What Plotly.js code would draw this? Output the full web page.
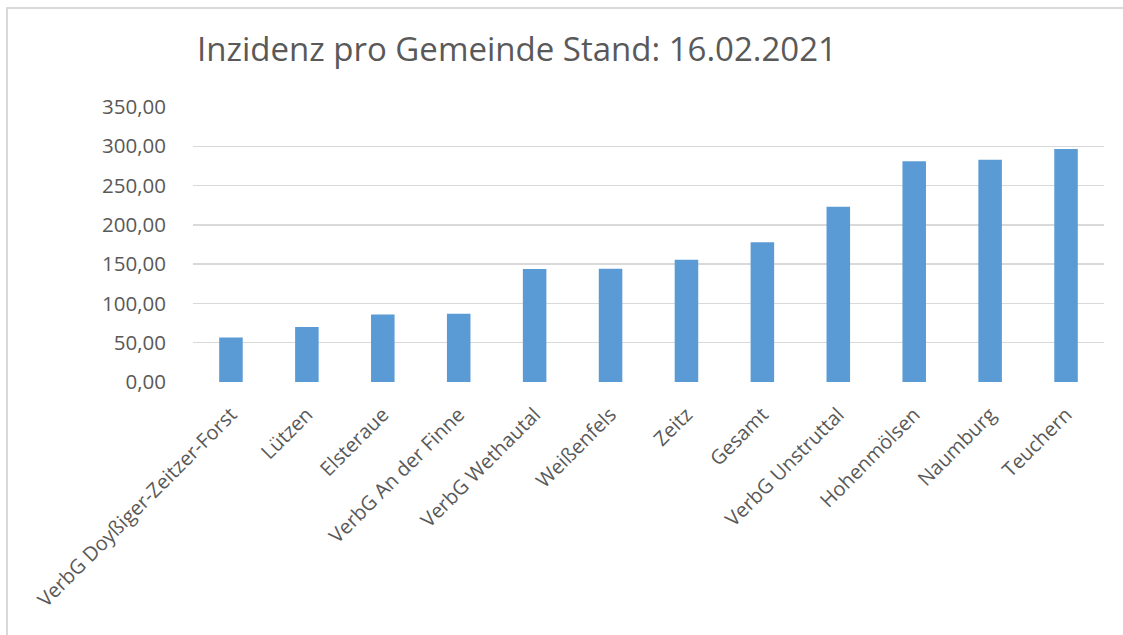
<!DOCTYPE html>
<html>
<head>
<meta charset="utf-8">
<script src="https://cdn.plot.ly/plotly-3.0.1.min.js"></script>
<style>
  html, body { margin: 0; padding: 0; background: #ffffff; overflow: hidden; }
  #chart { position: absolute; left: 0; top: 0; width: 1123px; height: 635px; }
  #frame { position: absolute; left: 6px; top: 7px; width: 1200px; height: 700px;
           border-left: 2px solid #d9d9d9; border-top: 2px solid #d9d9d9; pointer-events: none; }
</style>
</head>
<body>
<div id="chart"></div>
<div id="frame"></div>
<script>
const categories = [
  "VerbG Doyßiger-Zeitzer-Forst",
  "Lützen",
  "Elsteraue",
  "VerbG An der Finne",
  "VerbG Wethautal",
  "Weißenfels",
  "Zeitz",
  "Gesamt",
  "VerbG Unstruttal",
  "Hohenmölsen",
  "Naumburg",
  "Teuchern"
];
const incidence = [56.5, 70.0, 86.0, 87.0, 143.7, 144.0, 155.5, 178.0, 223.0, 281.0, 283.0, 296.7];
const yTicks = [0, 50, 100, 150, 200, 250, 300, 350];
const titleText = "Inzidenz pro Gemeinde Stand: 16.02.2021";

const trace = {
  type: "bar",
  x: categories,
  y: incidence,
  marker: { color: "#5b9bd5" },
  hoverinfo: "x+y"
};

const layout = {
  width: 1123,
  height: 635,
  paper_bgcolor: "#ffffff",
  plot_bgcolor: "#ffffff",
  separators: ",.",
  margin: { l: 193, r: 19, t: 107, b: 252.5, pad: 0 },
  bargap: 0.69,
  showlegend: false,
  font: { family: "Open Sans, sans-serif", color: "#595959", size: 20 },
  title: {
    text: titleText,
    font: { family: "Open Sans, sans-serif", size: 33, color: "#595959" },
    xref: "container", yref: "container",
    x: 197 / 1123, xanchor: "left",
    y: 1 - 49 / 635, yanchor: "middle"
  },
  xaxis: {
    type: "category",
    tickangle: -45,
    showgrid: false,
    showline: false,
    zeroline: false,
    ticks: "outside",
    ticklen: 12,
    tickcolor: "rgba(0,0,0,0)",
    tickfont: { family: "Open Sans, sans-serif", size: 20, color: "#595959" }
  },
  yaxis: {
    range: [0, 350],
    tickvals: yTicks,
    tickformat: ".2f",
    showgrid: true,
    gridcolor: "#d9d9d9",
    gridwidth: 1.5,
    zeroline: false,
    showline: false,
    ticks: "outside",
    ticklen: 22,
    tickcolor: "rgba(0,0,0,0)",
    tickfont: { family: "Open Sans, sans-serif", size: 20.5, color: "#595959" }
  }
};

Plotly.newPlot("chart", [trace], layout, { displayModeBar: false, staticPlot: true });
</script>
</body>
</html>
